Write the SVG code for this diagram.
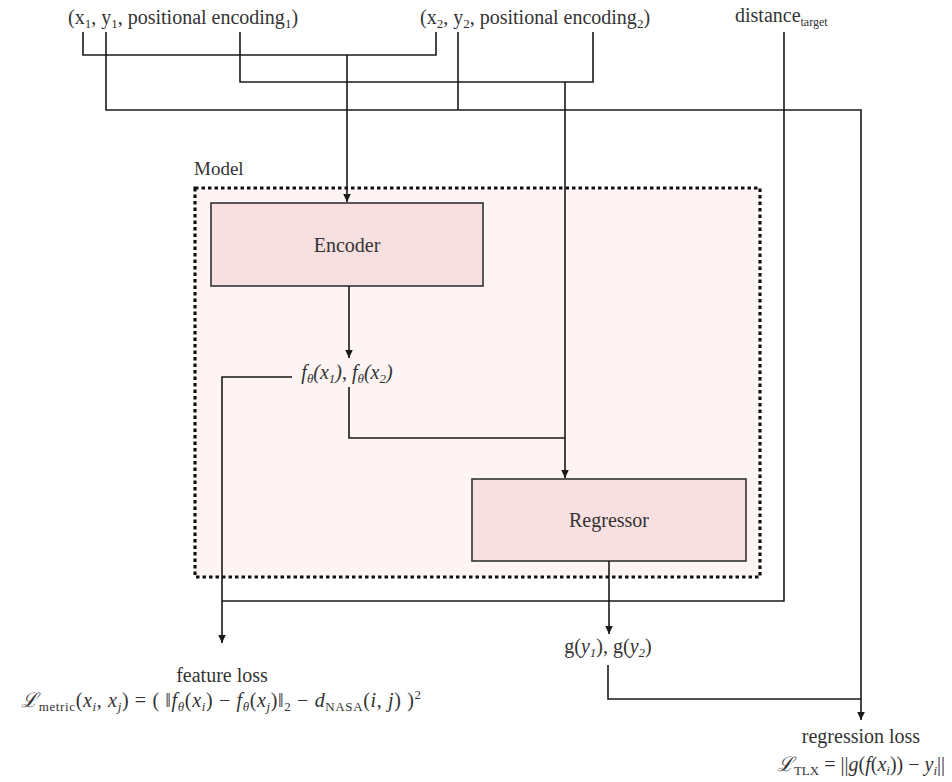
<svg xmlns="http://www.w3.org/2000/svg" width="952" height="782" viewBox="0 0 952 782" font-family="'Liberation Serif','DejaVu Serif','Times New Roman',serif">
<defs>
<marker id="arr" markerWidth="10" markerHeight="10" refX="9" refY="5" orient="auto" markerUnits="userSpaceOnUse">
<path d="M1,1.2 L9,5 L1,8.8 Z" fill="#1a1a1a"/>
</marker>
<style>
text{font-family:'Liberation Serif','DejaVu Serif','Times New Roman',serif;fill:#333;font-size:20px}
.sub{font-size:13px}
.tiny{font-size:12px}
.it{font-style:italic}
.ln{fill:none;stroke:#1a1a1a;stroke-width:1.6}
.box{fill:#f8dfe0;stroke:#333;stroke-width:1.6}
</style>
</defs>
<rect width="952" height="782" fill="#ffffff"/>

<g id="model">
<rect x="195" y="188" width="565" height="389" fill="#fdf4f3" stroke="#111" stroke-width="3.2" stroke-dasharray="3.5 3"/>
<text x="194" y="175" style="font-size:19px">Model</text>
</g>

<g id="input1">
<text x="68" y="24">(x<tspan class="sub" dy="4">1</tspan><tspan dy="-4">, y</tspan><tspan class="sub" dy="4">1</tspan><tspan dy="-4">, positional encoding</tspan><tspan class="sub" dy="4">1</tspan><tspan dy="-4">)</tspan></text>
</g>
<g id="input2">
<text x="420" y="24">(x<tspan class="sub" dy="4">2</tspan><tspan dy="-4">, y</tspan><tspan class="sub" dy="4">2</tspan><tspan dy="-4">, positional encoding</tspan><tspan class="sub" dy="4">2</tspan><tspan dy="-4">)</tspan></text>
</g>
<g id="distance">
<text x="735" y="22">distance<tspan class="tiny" dy="4">target</tspan></text>
</g>

<g id="encoder">
<rect class="box" x="211" y="203" width="272" height="83"/>
<text x="347" y="252" text-anchor="middle">Encoder</text>
</g>

<g id="features">
<text x="347" y="379" text-anchor="middle"><tspan class="it">f</tspan><tspan class="sub it" dy="4">θ</tspan><tspan class="it" dy="-4">(x</tspan><tspan class="sub it" dy="4">1</tspan><tspan class="it" dy="-4">)</tspan>, <tspan class="it">f</tspan><tspan class="sub it" dy="4">θ</tspan><tspan class="it" dy="-4">(x</tspan><tspan class="sub it" dy="4">2</tspan><tspan class="it" dy="-4">)</tspan></text>
</g>

<g id="regressor">
<rect class="box" x="472" y="479" width="274" height="82"/>
<text x="609" y="527" text-anchor="middle">Regressor</text>
</g>

<g id="outputs">
<text x="608" y="653" text-anchor="middle">g(<tspan class="it">y</tspan><tspan class="sub it" dy="4">1</tspan><tspan dy="-4">), g(</tspan><tspan class="it">y</tspan><tspan class="sub it" dy="4">2</tspan><tspan dy="-4">)</tspan></text>
</g>

<g id="feature-loss">
<text x="222" y="682" text-anchor="middle">feature loss</text>
<text x="221" y="707" text-anchor="middle" textLength="400" lengthAdjust="spacing"><tspan class="it">ℒ</tspan><tspan class="sub" dy="4">metric</tspan><tspan dy="-4">(</tspan><tspan class="it">x</tspan><tspan class="sub it" dy="4">i</tspan><tspan dy="-4">, </tspan><tspan class="it">x</tspan><tspan class="sub it" dy="4">j</tspan><tspan dy="-4">) = ( ‖</tspan><tspan class="it">f</tspan><tspan class="sub it" dy="4">θ</tspan><tspan dy="-4">(</tspan><tspan class="it">x</tspan><tspan class="sub it" dy="4">i</tspan><tspan dy="-4">) − </tspan><tspan class="it">f</tspan><tspan class="sub it" dy="4">θ</tspan><tspan dy="-4">(</tspan><tspan class="it">x</tspan><tspan class="sub it" dy="4">j</tspan><tspan dy="-4">)‖</tspan><tspan class="sub" dy="4">2</tspan><tspan dy="-4">  −  </tspan><tspan class="it">d</tspan><tspan class="sub" dy="4">NASA</tspan><tspan dy="-4">(</tspan><tspan class="it">i</tspan><tspan>, </tspan><tspan class="it">j</tspan><tspan>) )</tspan><tspan class="sub" dy="-8">2</tspan></text>
</g>

<g id="regression-loss">
<text x="861" y="743" text-anchor="middle">regression loss</text>
<text x="861" y="771" text-anchor="middle"><tspan class="it">ℒ</tspan><tspan class="sub" dy="4">TLX</tspan><tspan dy="-4"> = ||</tspan><tspan class="it">g</tspan><tspan>(</tspan><tspan class="it">f</tspan><tspan>(</tspan><tspan class="it">x</tspan><tspan class="sub it" dy="4">i</tspan><tspan dy="-4">)) − </tspan><tspan class="it">y</tspan><tspan class="sub it" dy="4">i</tspan><tspan dy="-4">||</tspan></text>
</g>

<g id="connectors">
<path class="ln" d="M83 32 V55 H436 V32"/>
<path class="ln" d="M347 55 V202" marker-end="url(#arr)"/>
<path class="ln" d="M240 32 V82 H593 V32"/>
<path class="ln" d="M565 82 V478" marker-end="url(#arr)"/>
<path class="ln" d="M106 32 V110 H861 V720" marker-end="url(#arr)"/>
<path class="ln" d="M458 32 V110"/>
<path class="ln" d="M784 32 V601 H222"/>
<path class="ln" d="M292 377 H222 V643" marker-end="url(#arr)"/>
<path class="ln" d="M349 286 V358" marker-end="url(#arr)"/>
<path class="ln" d="M349 387 V438 H565"/>
<path class="ln" d="M609 561 V634" marker-end="url(#arr)"/>
<path class="ln" d="M608 665 V699 H861"/>
</g>
</svg>
